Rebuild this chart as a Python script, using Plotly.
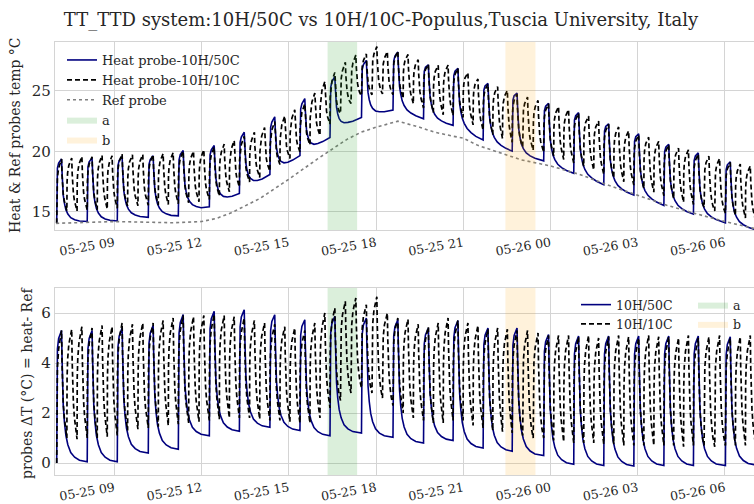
import numpy as np
import pandas as pd
import plotly.graph_objects as go

# ---------------- data ----------------
DAY0 = "2023-05-25 00:00"

# start of each 10H/50C heating cycle (the 10H/10C probe runs three cycles in the same span)
blue_start = ["2023-05-25 07:01", "2023-05-25 08:04", "2023-05-25 09:06", "2023-05-25 10:10",
              "2023-05-25 11:12", "2023-05-25 12:16", "2023-05-25 13:18", "2023-05-25 14:21",
              "2023-05-25 15:23", "2023-05-25 16:25", "2023-05-25 17:30", "2023-05-25 18:35",
              "2023-05-25 19:38", "2023-05-25 20:39", "2023-05-25 21:41", "2023-05-25 22:41",
              "2023-05-25 23:46", "2023-05-26 00:48", "2023-05-26 01:50", "2023-05-26 02:52",
              "2023-05-26 03:54", "2023-05-26 04:55", "2023-05-26 06:01"]
data_end = "2023-05-26 07:03"

# delta T (heat - ref) of the 10H/50C probe: peak of each pulse and baseline at end of cycle
blue_peak = [5.3, 5.3, 5.4, 5.5, 5.94, 6.07, 6.13, 5.93, 5.73, 5.87, 5.8, 5.73,
             5.4, 5.7, 5.4, 5.4, 5.14, 5.08, 5.08, 5.08, 5.08, 5.08, 5.05]
blue_base = [0.05, 0.05, 0.4, 0.55, 1.09, 1.27, 1.43, 1.3, 1.09, 1.2, 1.03, 0.8,
             0.9, 0.6, 0.47, 0.3, -0.05, -0.1, -0.12, -0.1, -0.1, -0.1, -0.08]

# delta T of the 10H/10C probe: three peaks / troughs per 10H/50C cycle
black_peak = [5.3, 5.35, 5.45, 5.4, 5.5, 5.45, 5.6, 5.55, 5.6, 5.6, 5.7, 5.8,
              5.9, 5.85, 5.9, 5.95, 5.9, 5.85, 5.8, 5.7, 5.6, 5.55, 5.45, 5.4,
              5.3, 5.6, 6.0, 6.2, 6.47, 6.6, 6.33, 6.65, 6.0, 5.8, 5.75, 5.55,
              5.45, 5.6, 5.8, 5.7, 5.6, 5.5, 5.35, 5.4, 5.35, 5.3, 5.3, 5.2,
              5.1, 5.1, 5.1, 5.05, 5.1, 5.0, 5.05, 5.1, 5.05, 5.0, 5.1, 5.05,
              5.05, 5.0, 5.1, 5.0, 5.05, 5.1, 5.0, 5.05, 5.1]
black_trough = [1.0, 0.95, 1.0, 1.0, 1.05, 1.1, 1.3, 1.35, 1.4, 1.45, 1.5, 1.55,
                1.6, 1.65, 1.7, 1.75, 1.8, 1.8, 1.8, 1.75, 1.7, 1.7, 1.65, 1.6,
                1.6, 1.8, 2.2, 2.5, 2.8, 3.0, 2.8, 2.6, 2.3, 2.0, 1.8, 1.7,
                1.6, 1.6, 1.7, 1.7, 1.5, 1.4, 1.3, 1.25, 1.2, 1.1, 1.0, 1.0,
                0.9, 0.85, 0.8, 0.8, 0.8, 0.75, 0.75, 0.7, 0.7, 0.7, 0.7, 0.7,
                0.7, 0.65, 0.7, 0.7, 0.65, 0.7, 0.7, 0.7, 0.7]

# reference probe temperature
ref_time = ["2023-05-25 07:00", "2023-05-25 08:00", "2023-05-25 09:00", "2023-05-25 10:00",
            "2023-05-25 11:00", "2023-05-25 12:00", "2023-05-25 12:30", "2023-05-25 13:00",
            "2023-05-25 14:00", "2023-05-25 15:00", "2023-05-25 16:00", "2023-05-25 17:00",
            "2023-05-25 17:30", "2023-05-25 18:00", "2023-05-25 18:45", "2023-05-25 19:30",
            "2023-05-25 20:00", "2023-05-25 20:40", "2023-05-25 21:00", "2023-05-25 21:30",
            "2023-05-25 22:00", "2023-05-25 23:00", "2023-05-26 00:00", "2023-05-26 01:00",
            "2023-05-26 02:00", "2023-05-26 03:00", "2023-05-26 04:00", "2023-05-26 05:00",
            "2023-05-26 06:00", "2023-05-26 07:03"]
ref_temp = [14.05, 14.15, 14.2, 14.15, 14.1, 14.2, 14.45, 14.9, 16.1, 17.7, 19.4, 21.0,
            21.6, 22.0, 22.5, 22.0, 21.6, 21.25, 21.1, 20.5, 20.1, 19.3, 18.8, 18.1,
            17.2, 16.4, 15.55, 14.85, 14.2, 13.6]

period_a = ["2023-05-25 16:20", "2023-05-25 17:21"]
period_b = ["2023-05-25 22:27", "2023-05-25 23:29"]

# ---------------- pulse drawing ----------------
def minutes(s):
    return (pd.Timestamp(s) - pd.Timestamp(DAY0)).total_seconds() / 60.0

RISE_OFF = [0, 0.4, 1.5, 4, 10]
BLUE_RISE = [0, 0.72, 0.86, 0.94, 1.0]
BLUE_DEC_OFF = [11, 12, 13.5, 16, 19, 23, 29, 37, 47]
BLUE_DEC = [0.8, 0.6, 0.43, 0.3, 0.2, 0.13, 0.07, 0.035, 0.012]
BLACK_RISE = [0, 0.55, 0.72, 0.86, 1.0]
BLACK_DEC_OFF = [11, 12, 13.5, 15.5, 18]
BLACK_DEC = [0.7, 0.5, 0.33, 0.2, 0.09]

starts = [minutes(s) for s in blue_start]
end_m = minutes(data_end)
bounds = starts + [end_m]


def pulse_series(cycle_bounds, peaks, bases, rise_frac, dec_off, dec_frac):
    ts, vs = [], []
    prev = 0.0
    for i in range(len(peaks)):
        s, e = cycle_bounds[i], cycle_bounds[i + 1]
        p, b = peaks[i], bases[i]
        for off, f in zip(RISE_OFF, rise_frac):
            ts.append(s + off)
            vs.append(prev + f * (p - prev))
        for off, f in zip(dec_off, dec_frac):
            if s + off < e:
                ts.append(s + off)
                vs.append(b + f * (p - b))
        prev = b
    ts.append(cycle_bounds[-1])
    vs.append(prev)
    return np.array(ts), np.array(vs)


blue_t, blue_dT = pulse_series(bounds, blue_peak, blue_base, BLUE_RISE, BLUE_DEC_OFF, BLUE_DEC)

black_bounds = []
for i in range(len(starts)):
    s, e = bounds[i], bounds[i + 1]
    for k in range(3):
        black_bounds.append(s + k * (e - s) / 3)
black_bounds.append(end_m)
black_t, black_dT = pulse_series(black_bounds, black_peak, black_trough, BLACK_RISE,
                                 BLACK_DEC_OFF, BLACK_DEC)

ref_m = np.array([minutes(s) for s in ref_time])
ref_v = np.array(ref_temp)
blue_T = np.interp(blue_t, ref_m, ref_v) + blue_dT
black_T = np.interp(black_t, ref_m, ref_v) + black_dT


def to_time(m):
    return pd.Timestamp(DAY0) + pd.to_timedelta(m, unit="min")


# ---------------- figure ----------------
W, H = 754, 504
FONT = "DejaVu Serif"
TXT = "#262626"
NAVY = "#00007f"
GRID = "#d4d4d4"

Y1 = [13.5, 29.05]
Y2 = [-0.48, 7.0]
XR = ["2023-05-25 06:57:30", "2023-05-26 07:00:00"]

fig = go.Figure()


def span_trace(period, yr, name, color, xa, ya, legend):
    return go.Scatter(x=[period[0], period[1], period[1], period[0], period[0]],
                      y=[yr[0] - 5, yr[0] - 5, yr[1] + 5, yr[1] + 5, yr[0] - 5],
                      xaxis=xa, yaxis=ya, mode="lines", fill="toself",
                      fillcolor=color, line=dict(width=0), name=name,
                      legend=legend, hoverinfo="skip")


GREEN = "rgba(44,160,44,0.17)"
ORANGE = "rgba(255,165,0,0.14)"

# top subplot
fig.add_trace(go.Scatter(x=to_time(blue_t), y=blue_T, mode="lines", name="Heat probe-10H/50C",
                         line=dict(color=NAVY, width=1.6), xaxis="x", yaxis="y", legend="legend"))
fig.add_trace(go.Scatter(x=to_time(black_t), y=black_T, mode="lines", name="Heat probe-10H/10C",
                         line=dict(color="black", width=1.7, dash="5px,3px"), xaxis="x", yaxis="y",
                         legend="legend"))
fig.add_trace(go.Scatter(x=to_time(ref_m), y=ref_v, mode="lines", name="Ref probe",
                         line=dict(color="#7f7f7f", width=1.6, dash="dot"), xaxis="x", yaxis="y",
                         legend="legend"))
fig.add_trace(span_trace(period_a, Y1, "a", GREEN, "x", "y", "legend"))
fig.add_trace(span_trace(period_b, Y1, "b", ORANGE, "x", "y", "legend"))

# bottom subplot
fig.add_trace(span_trace(period_a, Y2, "a", GREEN, "x2", "y2", "legend3"))
fig.add_trace(span_trace(period_b, Y2, "b", ORANGE, "x2", "y2", "legend3"))
fig.add_trace(go.Scatter(x=to_time(blue_t), y=blue_dT, mode="lines", name="10H/50C",
                         line=dict(color=NAVY, width=1.6), xaxis="x2", yaxis="y2", legend="legend2"))
fig.add_trace(go.Scatter(x=to_time(black_t), y=black_dT, mode="lines", name="10H/10C",
                         line=dict(color="black", width=1.7, dash="5px,3px"), xaxis="x2", yaxis="y2",
                         legend="legend2"))

xdom = [55 / W, 1.0]
common_x = dict(domain=xdom, range=XR, type="date", tickformat="%m-%d %H", dtick=3 * 3600 * 1000,
                tick0="2023-05-25 00:00", tickangle=-10, showgrid=True, gridcolor=GRID, gridwidth=1,
                showline=True, linecolor=GRID, linewidth=1.2, mirror=True, ticks="", zeroline=False,
                tickfont=dict(family=FONT, size=12.5, color=TXT), automargin=False)
common_y = dict(showgrid=True, gridcolor=GRID, gridwidth=1, showline=True, linecolor=GRID,
                linewidth=1.2, ticks="", zeroline=False, automargin=False,
                tickfont=dict(family=FONT, size=15, color=TXT))

fig.update_layout(
    width=W, height=H, margin=dict(l=0, r=0, t=0, b=0),
    paper_bgcolor="white", plot_bgcolor="white",
    xaxis=dict(common_x, anchor="y"),
    yaxis=dict(common_y, domain=[1 - 230 / H, 1 - 42 / H], range=Y1, tickvals=[15, 20, 25], anchor="x"),
    xaxis2=dict(common_x, anchor="y2"),
    yaxis2=dict(common_y, domain=[1 - 475 / H, 1 - 288 / H], range=Y2, tickvals=[0, 2, 4, 6], anchor="x2"),
    title=dict(text="TT_TTD system:10H/50C vs 10H/10C-Populus,Tuscia University, Italy",
               x=381 / W, xanchor="center", y=1 - 20 / H, yanchor="middle", yref="container",
               font=dict(family=FONT, size=18, color=TXT)),
    legend=dict(x=62 / W, y=1 - 45 / H, xanchor="left", yanchor="top", bgcolor="rgba(0,0,0,0)",
                font=dict(family=FONT, size=13, color=TXT), tracegroupgap=0),
    legend2=dict(x=576 / W, y=1 - 290 / H, xanchor="left", yanchor="top", bgcolor="rgba(0,0,0,0)",
                 font=dict(family=FONT, size=12.5, color=TXT)),
    legend3=dict(x=693 / W, y=1 - 290 / H, xanchor="left", yanchor="top", bgcolor="rgba(0,0,0,0)",
                 font=dict(family=FONT, size=12.5, color=TXT)),
    showlegend=True,
    annotations=[
        dict(text="Heat & Ref probes temp °C", x=15 / W, y=1 - 135 / H, xref="paper", yref="paper",
             xanchor="center", yanchor="middle", textangle=-90, showarrow=False,
             font=dict(family=FONT, size=14, color=TXT)),
        dict(text="probes ΔT (°C) = heat- Ref", x=27 / W, y=1 - 383 / H, xref="paper", yref="paper",
             xanchor="center", yanchor="middle", textangle=-90, showarrow=False,
             font=dict(family=FONT, size=14, color=TXT)),
    ],
)

fig.write_html("out.html")
